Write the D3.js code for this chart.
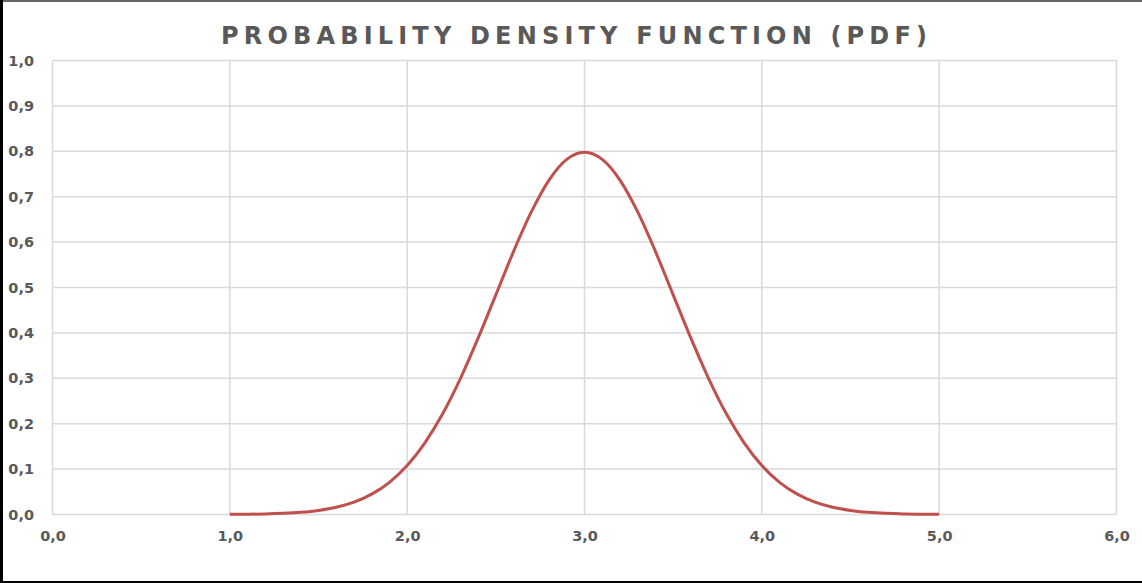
<!DOCTYPE html>
<html><head><meta charset="utf-8">
<script src="https://cdn.jsdelivr.net/npm/d3@7"></script>
<style>
html,body{margin:0;padding:0;background:#fff;}
svg{display:block;}
</style></head>
<body>
<svg id="chart" width="1142" height="583"></svg>
<script>
const title = "PROBABILITY DENSITY FUNCTION (PDF)";
const xValues = [1.0,1.1,1.2,1.3,1.4,1.5,1.6,1.7,1.8,1.9,2.0,2.1,2.2,2.3,2.4,2.5,2.6,2.7,2.8,2.9,3.0,
                 3.1,3.2,3.3,3.4,3.5,3.6,3.7,3.8,3.9,4.0,4.1,4.2,4.3,4.4,4.5,4.6,4.7,4.8,4.9,5.0];
const pdfValues = [0.0003,0.0006,0.0012,0.0025,0.0048,0.0089,0.0158,0.0272,0.0448,0.0709,0.1080,
                   0.1579,0.2218,0.2995,0.3884,0.4839,0.5794,0.6664,0.7365,0.7821,0.7979,
                   0.7821,0.7365,0.6664,0.5794,0.4839,0.3884,0.2995,0.2218,0.1579,0.1080,
                   0.0709,0.0448,0.0272,0.0158,0.0089,0.0048,0.0025,0.0012,0.0006,0.0003];
const xTicks = [0,1,2,3,4,5,6];
const yTicks = [0,0.1,0.2,0.3,0.4,0.5,0.6,0.7,0.8,0.9,1.0];

const svg = d3.select("#chart");
const W = 1142, H = 583;
const L = 52.5, R = 1116.5, T = 60.5, B = 514.5;
const x = d3.scaleLinear().domain([0,6]).range([L,R]);
const y = d3.scaleLinear().domain([0,1]).range([B,T]);
const fmt = v => d3.format(".1f")(v).replace(".", ",");
const textColor = "#595959";
const font = "'DejaVu Sans', 'Open Sans', sans-serif";

svg.append("rect").attr("x",0).attr("y",0).attr("width",W).attr("height",H).attr("fill","#fff");

// gridlines
const grid = svg.append("g").attr("stroke","#d9d9d9").attr("stroke-width",1.5);
yTicks.forEach(t => grid.append("line").attr("x1",L).attr("x2",R).attr("y1",y(t)).attr("y2",y(t)));
xTicks.forEach(t => grid.append("line").attr("x1",x(t)).attr("x2",x(t)).attr("y1",T).attr("y2",B));

// axes labels via d3 axes
const yAxis = svg.append("g").attr("transform",`translate(${L},0)`)
  .call(d3.axisLeft(y).tickValues(yTicks).tickFormat(fmt).tickSize(0).tickPadding(18.5));
const xAxis = svg.append("g").attr("transform",`translate(0,${B})`)
  .call(d3.axisBottom(x).tickValues(xTicks).tickFormat(fmt).tickSize(0).tickPadding(16));
[yAxis,xAxis].forEach(a => {
  a.select(".domain").remove();
  a.selectAll("text").attr("fill",textColor).style("font-family",font)
   .style("font-size","14.5px").style("font-weight","bold");
});

// curve
const line = d3.line().x((d,i)=>x(xValues[i])).y(d=>y(d)).curve(d3.curveMonotoneX);
svg.append("path").datum(pdfValues).attr("d",line).attr("fill","none")
  .attr("stroke","#c0504d").attr("stroke-width",3).attr("stroke-linejoin","round");

// title
svg.append("text").attr("x",221).attr("y",44)
  .attr("fill",textColor).style("font-family",font).style("font-size","24px")
  .style("font-weight","bold").attr("textLength",706).attr("lengthAdjust","spacing").text(title);

// borders
svg.append("line").attr("x1",0).attr("x2",W).attr("y1",1).attr("y2",1).attr("stroke","#666").attr("stroke-width",2);
svg.append("line").attr("x1",1.5).attr("x2",1.5).attr("y1",0).attr("y2",H).attr("stroke","#000").attr("stroke-width",3);
svg.append("line").attr("x1",0).attr("x2",W).attr("y1",582).attr("y2",582).attr("stroke","#000").attr("stroke-width",2);
</script>
</body></html>
